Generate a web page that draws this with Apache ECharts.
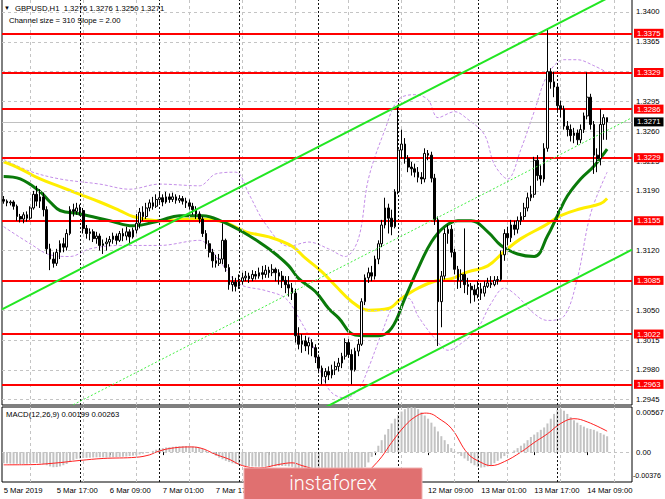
<!DOCTYPE html>
<html>
<head>
<meta charset="utf-8">
<script src="https://cdn.jsdelivr.net/npm/echarts@6/dist/echarts.min.js"></script>
<style>
  html, body { margin: 0; padding: 0; background: #fff; }
  #chart { width: 665px; height: 499px; }
</style>
</head>
<body>
<div id="chart"></div>
<script>
// GBPUSD H1, 5 Mar 01:00 .. 14 Mar 15:00. Candles as [open, close, low, high] in pips above 1.3000
const PIP_BASE = 1.3;
const ohlcPips = [
  [180,178,175,184],[178,176,172,180],[176,177,173,179],[177,172,168,179],[172,160,155,174],
  [160,157,153,163],[157,162,152,165],[162,158,154,166],[158,170,156,172],[170,186,168,190],
  [186,178,172,196],[178,183,170,192],[183,168,160,188],[168,122,116,172],[122,110,97,128],
  [110,105,100,118],[105,118,102,122],[118,128,110,132],[128,124,118,135],[124,140,120,145],
  [140,168,138,172],[168,166,160,175],[166,170,162,176],[170,167,161,174],[167,146,140,170],
  [146,140,134,150],[140,142,132,146],[142,134,130,145],[134,137,128,142],[137,126,120,140],
  [126,128,116,133],[128,130,120,135],[130,133,125,137],[133,137,128,141],[137,132,127,140],
  [132,140,130,143],[140,137,131,146],[137,142,132,148],[142,136,128,145],[136,144,134,147],
  [144,152,140,163],[152,165,146,170],[165,160,155,172],[160,170,157,176],[170,176,166,180],
  [176,172,168,183],[172,180,170,186],[180,182,174,188],[182,177,172,186],[177,183,175,189],
  [183,180,176,187],[180,183,177,188],[183,179,175,186],[179,181,176,185],[181,178,174,184],
  [178,176,170,182],[176,172,168,180],[172,168,162,176],[168,163,157,172],[163,157,152,166],
  [157,140,136,160],[140,128,122,144],[128,118,112,132],[118,108,100,122],[108,105,100,115],
  [105,110,102,116],[110,132,104,152],[132,100,95,134],[100,80,74,104],[80,83,72,90],
  [83,78,72,88],[78,84,75,92],[84,88,80,94],[88,90,84,96],[90,87,82,94],
  [87,92,84,97],[92,90,86,96],[90,94,87,100],[94,92,86,102],[92,97,88,103],
  [97,94,88,101],[94,98,90,104],[98,94,84,100],[94,90,80,98],[90,85,76,96],
  [85,80,70,90],[80,76,66,90],[76,70,62,82],[70,20,12,75],[20,10,4,30],
  [10,14,0,22],[14,8,2,20],[8,12,-2,18],[12,6,-4,16],[6,-5,-12,10],
  [-5,-18,-24,-2],[-18,-28,-37,-15],[-28,-22,-36,-18],[-22,-26,-32,-16],[-26,-20,-30,-14],
  [-20,-16,-26,-10],[-16,-12,-22,-6],[-12,-4,-18,0],[-4,12,-8,17],[12,-2,-6,16],
  [-2,-20,-37,4],[-20,2,-22,6],[2,10,-4,16],[10,60,8,64],[60,88,56,92],
  [88,94,82,100],[94,90,84,102],[90,110,86,114],[110,128,104,132],[128,150,124,156],
  [150,170,146,182],[170,158,140,175],[158,148,138,168],[148,189,146,192],[189,238,186,291],
  [238,245,228,262],[245,228,222,252],[228,218,212,232],[218,216,208,224],[216,212,206,222],
  [212,206,200,218],[206,204,198,212],[204,234,200,240],[234,232,226,238],[232,205,200,236],
  [205,156,150,210],[156,60,8,160],[60,90,30,96],[90,140,86,146],[140,145,128,150],
  [145,118,112,150],[118,98,92,122],[98,85,75,102],[85,92,76,98],[92,80,70,146],
  [80,78,68,88],[78,74,58,82],[74,68,60,80],[68,75,64,84],[75,70,62,82],
  [70,78,66,84],[78,82,76,88],[82,80,76,90],[80,85,78,90],[85,86,80,90],
  [86,115,84,120],[115,140,108,145],[140,135,126,148],[135,150,130,156],[150,145,138,155],
  [145,155,140,160],[155,160,150,165],[160,170,156,176],[170,182,166,188],[182,186,178,196],
  [186,226,182,230],[226,208,202,232],[208,204,196,220],[204,240,200,246],[240,330,236,381],
  [330,318,310,334],[318,312,300,330],[312,290,284,316],[290,286,276,296],[286,266,262,290],
  [266,262,254,272],[262,255,248,268],[255,258,246,264],[258,250,244,262],[250,262,246,268],
  [262,278,258,282],[278,300,274,329],[300,268,262,304],[268,232,210,272],[232,228,212,240],
  [228,268,220,286],[268,276,250,280],[276,271,250,276]
];

// moving averages / bands, sampled as [bar, price]
const maGreen = [[0,1.3207],[5,1.3204],[11,1.3189],[14,1.3177],[17,1.3167],[23,1.3163],[32,1.3155],[39,1.3149],
  [47,1.3155],[53,1.3161],[60,1.3161],[66,1.3154],[72,1.3142],[77,1.3130],[82,1.3116],[86,1.3102],[89,1.3087],
  [94,1.3072],[98,1.3052],[101,1.3041],[106,1.3021],[113,1.3020],[117,1.3029],[121,1.3064],[125,1.3099],
  [129,1.3130],[133,1.3148],[137,1.3155],[141,1.3155],[146,1.3142],[150,1.3126],[155,1.3116],[160,1.3113],
  [164,1.3137],[167,1.3161],[170,1.3184],[174,1.3204],[178,1.3219],[182,1.3239]];
const maYellow = [[0,1.3224],[5,1.3216],[11,1.3204],[17,1.3195],[23,1.3186],[29,1.3177],[35,1.3167],[39,1.3160],
  [47,1.3155],[57,1.3157],[66,1.3154],[73,1.3142],[80,1.3136],[87,1.3125],[91,1.3111],[96,1.3095],[100,1.3079],
  [105,1.3060],[110,1.3050],[116,1.3052],[120,1.3064],[125,1.3076],[130,1.3084],[135,1.3087],[140,1.3095],
  [146,1.3102],[151,1.3119],[156,1.3134],[163,1.3149],[168,1.3161],[174,1.3169],[180,1.3175],[182,1.3181]];
const bandUpper = [[0,1.3227],[8,1.3213],[17,1.3204],[29,1.3198],[38,1.3192],[47,1.3198],[59,1.3196],[64,1.3210],
  [70,1.3212],[74,1.3186],[79,1.3151],[86,1.3125],[92,1.3130],[98,1.3122],[103,1.3113],[107,1.3134],[110,1.3204],
  [115,1.3262],[119,1.3297],[124,1.3303],[128,1.3297],[131,1.3276],[136,1.3283],[140,1.3274],[145,1.3256],
  [148,1.3221],[152,1.3204],[156,1.3239],[160,1.3283],[164,1.3326],[169,1.3344],[173,1.3344],[178,1.3337],[182,1.3329]];
const bandLower = [[0,1.3148],[8,1.3128],[14,1.3115],[20,1.3113],[26,1.3122],[35,1.3126],[47,1.3126],[59,1.3132],
  [65,1.3108],[71,1.3081],[79,1.3073],[85,1.3064],[89,1.3041],[93,1.3011],[96,1.2973],[99,1.2953],[103,1.2947],
  [107,1.2957],[110,1.2982],[114,1.3023],[118,1.3058],[122,1.3064],[125,1.3043],[130,1.3017],[134,1.3003],
  [138,1.3011],[143,1.3029],[147,1.3058],[151,1.3076],[155,1.3066],[160,1.3046],[164,1.3038],[169,1.3043],
  [173,1.3087],[177,1.3163],[182,1.3212]];

// regression channel (size 310 pips, slope 2.00)
const channelUpper = [[-0.5,1.3051],[189.5,1.3431]];
const channelMid = [[-0.5,1.2896],[189.5,1.3276]];
const channelLower = [[-0.5,1.2741],[189.5,1.3121]];

const levels = [1.3375, 1.3329, 1.3286, 1.3229, 1.3155, 1.3085, 1.3022, 1.2963];
const lastPrice = 1.3271;
const priceTicks = [1.3400, 1.3365, 1.3330, 1.3295, 1.3260, 1.3225, 1.3190, 1.3155, 1.3120, 1.3085, 1.3050, 1.3015, 1.2980, 1.2945];

// MACD(12,26,9): histogram per bar and signal samples, in 1e-5 units
const macdHist = [
  -140,-142,-145,-146,-148,-150,-148,-146,-140,-135,-138,-142,-150,
  -165,-180,-190,-188,-180,
  -165,-150,-120,-100,-85,
  -80,-75,-72,-70,-68,-66,-65,-66,-68,-66,-64,-62,-60,-58,-55,-50,-45,-40,-30,
  -20,-10,0,15,
  30,40,50,58,62,66,70,72,74,75,72,70,65,55,
  40,20,0,-20,-45,-70,-90,-110,
  -125,-140,-150,-160,-170,
  -175,-178,-180,-182,-184,-185,-184,-182,-180,-178,-176,-175,-176,-180,-185,
  -200,-230,-255,-275,-290,-305,-320,-335,-350,-362,-370,-376,-372,
  -365,-355,-345,-335,-325,-310,-290,-250,-190,-130,
  -60,10,80,150,220,290,
  360,420,470,510,540,560,
  567,560,540,500,
  460,420,370,320,260,200,150,100,50,
  10,-20,-50,-80,
  -110,-140,-165,-185,-195,-190,-180,-165,
  -140,-110,-80,-50,-25,0,20,
  50,80,110,150,190,220,250,280,310,
  360,420,480,530,540,520,480,
  440,400,370,340,320,300,290,280,260,240,220,199
];
const macdSignal = [[0,-160],[8,-158],[15,-140],[23,-105],[30,-80],[40,-65],[44,-35],[46,0],[50,45],[56,65],
  [59,55],[64,-30],[68,-90],[72,-170],[77,-200],[83,-155],[87,-135],[90,-170],[95,-230],[100,-285],[105,-310],
  [109,-280],[111,-200],[114,-60],[117,120],[121,330],[124,440],[127,490],[129,480],[131,430],[135,300],
  [140,-20],[144,-130],[147,-170],[151,-120],[156,0],[160,120],[164,230],[168,360],[172,420],[176,380],[182,263]];
const macdScale = { max: 0.00567, min: -0.00376 };

// bottom scale, one label every 16 bars; the ones under the logo are left blank
const dateLabels = ['5 Mar 2019','5 Mar 17:00','6 Mar 09:00','7 Mar 01:00','7 Mar 17:00','',
  '','','12 Mar 09:00','13 Mar 01:00','13 Mar 17:00','14 Mar 09:00'];
const LABEL_EVERY = 16;
const daySeparators = [23, 47, 71, 95, 119, 143, 167];
const gridBars = [8, 24, 40, 56, 72, 88, 104, 120, 136, 152, 168, 184];
const SLOTS = 190;

const FONT = '"Liberation Sans", Arial, sans-serif';
const FS = 7.7;
const cats = Array.from({ length: SLOTS }, (_, i) => String(i));
const toPrice = (p) => +(PIP_BASE + p / 10000).toFixed(5);
const candleData = ohlcPips.map((r) => r.map(toPrice));
const histData = macdHist.map((v) => v / 100000);
const signalData = macdSignal.map(([b, v]) => [b, v / 100000]);

const gridStyle = { color: '#c4c4c4', width: 1, type: [3, 3] };
const sepStyle = { color: '#111', width: 1, type: [2, 2] };
const hiddenStyle = { color: 'rgba(0,0,0,0)', width: 0 };
const tickLabel = { show: true, position: 'end', distance: 4, color: '#000', fontSize: FS, fontFamily: FONT };

const verticals = () => [
  ...gridBars.map((b) => ({ xAxis: b, lineStyle: gridStyle, label: { show: false } })),
  ...daySeparators.map((b) => ({ xAxis: b, lineStyle: sepStyle, label: { show: false } }))
];

const chart = echarts.init(document.getElementById('chart'), null, { renderer: 'svg' });

chart.setOption({
  animation: false,
  backgroundColor: '#fff',
  grid: [
    { left: 2, top: -2, width: 630, height: 407, show: true, borderColor: '#000', borderWidth: 1, containLabel: false, outerBoundsMode: 'none' },
    { left: 2, top: 407, width: 630, height: 75, show: true, borderColor: '#000', borderWidth: 1, containLabel: false, outerBoundsMode: 'none' }
  ],
  xAxis: [
    { type: 'category', gridIndex: 0, data: cats, boundaryGap: true, show: false },
    { type: 'value', gridIndex: 0, min: -0.5, max: SLOTS - 0.5, show: false },
    {
      type: 'category', gridIndex: 1, data: cats, boundaryGap: true,
      axisLine: { show: false },
      axisTick: { show: true, alignWithLabel: true, length: 3, interval: (i) => i % LABEL_EVERY === 0, lineStyle: { color: '#000' } },
      axisLabel: {
        interval: (i) => i % LABEL_EVERY === 0 && !!dateLabels[i / LABEL_EVERY],
        formatter: (v) => dateLabels[Number(v) / LABEL_EVERY] || '',
        align: 'left', margin: 4, color: '#000', fontSize: FS, fontFamily: FONT
      },
      splitLine: { show: false }
    },
    { type: 'value', gridIndex: 1, min: -0.5, max: SLOTS - 0.5, show: false }
  ],
  yAxis: [
    { type: 'value', gridIndex: 0, min: 1.293873, max: 1.341643, show: false },
    { type: 'value', gridIndex: 1, min: macdScale.min, max: macdScale.max, show: false }
  ],
  series: [
    // price grid + right scale labels
    {
      type: 'line', xAxisIndex: 1, yAxisIndex: 0, data: [], z: 1, silent: true,
      markLine: {
        symbol: 'none', silent: true, animation: false, precision: 6,
        data: [
          ...priceTicks.map((v) => ({ yAxis: v, lineStyle: gridStyle, label: { ...tickLabel, formatter: v.toFixed(4) } })),
          ...verticals()
        ]
      }
    },
    { type: 'line', name: 'band up', xAxisIndex: 1, yAxisIndex: 0, data: bandUpper, showSymbol: false, smooth: 0.35, z: 2,
      lineStyle: { color: '#c48ee8', width: 1, type: [3, 2] } },
    { type: 'line', name: 'band low', xAxisIndex: 1, yAxisIndex: 0, data: bandLower, showSymbol: false, smooth: 0.35, z: 2,
      lineStyle: { color: '#c48ee8', width: 1, type: [3, 2] } },
    { type: 'line', name: 'MA yellow', xAxisIndex: 1, yAxisIndex: 0, data: maYellow, showSymbol: false, smooth: 0.4, z: 3,
      lineStyle: { color: '#ffee00', width: 3 } },
    { type: 'line', name: 'MA green', xAxisIndex: 1, yAxisIndex: 0, data: maGreen, showSymbol: false, smooth: 0.4, z: 4,
      lineStyle: { color: '#0a7a0a', width: 3 } },
    {
      type: 'candlestick', name: 'GBPUSD', xAxisIndex: 0, yAxisIndex: 0, data: candleData, z: 5,
      barWidth: 2.2,
      itemStyle: { color: '#ffffff', color0: '#000000', borderColor: '#000000', borderColor0: '#000000', borderWidth: 1 }
    },
    { type: 'line', xAxisIndex: 1, yAxisIndex: 0, data: channelUpper, showSymbol: false, z: 6, clip: true,
      lineStyle: { color: '#22e622', width: 2 } },
    { type: 'line', xAxisIndex: 1, yAxisIndex: 0, data: channelLower, showSymbol: false, z: 6, clip: true,
      lineStyle: { color: '#22e622', width: 2 } },
    { type: 'line', xAxisIndex: 1, yAxisIndex: 0, data: channelMid, showSymbol: false, z: 6, clip: true,
      lineStyle: { color: '#44ee44', width: 1, type: [2, 2] } },
    // support / resistance levels and bid line
    {
      type: 'line', xAxisIndex: 1, yAxisIndex: 0, data: [], z: 7, silent: true,
      markLine: {
        symbol: 'none', silent: true, animation: false, precision: 6,
        data: [
          { yAxis: lastPrice, lineStyle: { color: '#c0c0c0', width: 1, type: 'solid' },
            label: { show: true, position: 'end', distance: 2, color: '#fff', backgroundColor: '#000', padding: [1, 3, 0, 3],
              fontSize: FS, fontFamily: FONT, formatter: lastPrice.toFixed(4) } },
          ...levels.map((v) => ({
            yAxis: v, lineStyle: { color: '#ff0000', width: 2, type: 'solid' },
            label: { show: true, position: 'end', distance: 2, color: '#fff', backgroundColor: '#ff0000', padding: [1, 3, 0, 3],
              fontSize: FS, fontFamily: FONT, formatter: v.toFixed(4) }
          }))
        ]
      }
    },
    // MACD pane: zero line, scale labels (top/bottom labels sit just inside the pane)
    {
      type: 'line', xAxisIndex: 3, yAxisIndex: 1, data: [], z: 1, silent: true,
      markLine: {
        symbol: 'none', silent: true, animation: false, precision: 8,
        data: [
          { yAxis: 0, lineStyle: gridStyle, label: { ...tickLabel, formatter: '0.00' } },
          { yAxis: 0.00492, lineStyle: hiddenStyle, label: { ...tickLabel, formatter: macdScale.max.toFixed(5) } },
          { yAxis: -0.003, lineStyle: hiddenStyle, label: { ...tickLabel, distance: 1, fontSize: 7.1, formatter: macdScale.min.toFixed(5) } },
          ...verticals()
        ]
      }
    },
    { type: 'bar', name: 'MACD', xAxisIndex: 2, yAxisIndex: 1, data: histData, barWidth: 2, z: 2,
      itemStyle: { color: '#c3c3c3' } },
    { type: 'line', name: 'Signal', xAxisIndex: 3, yAxisIndex: 1, data: signalData, showSymbol: false, smooth: 0.4, z: 3,
      lineStyle: { color: '#ff2020', width: 1 } }
  ],
  graphic: [
    { type: 'text', z: 50, style: { text: '\u25BC', x: 4, y: 8, fill: '#000', fontSize: 6, fontFamily: FONT, verticalAlign: 'middle' } },
    { type: 'text', z: 50, style: { text: 'GBPUSD,H1  1.3276 1.3276 1.3250 1.3271', x: 15, y: 8, fill: '#000', fontSize: FS, fontFamily: FONT, verticalAlign: 'middle' } },
    { type: 'text', z: 50, style: { text: 'Channel size = 310 Slope = 2.00', x: 9, y: 20, fill: '#000', fontSize: FS, fontFamily: FONT, verticalAlign: 'middle' } },
    { type: 'text', z: 50, style: { text: 'MACD(12,26,9) 0.00199 0.00263', x: 6, y: 414, fill: '#000', fontSize: FS, fontFamily: FONT, verticalAlign: 'middle' } },
    { type: 'rect', z: 100, shape: { x: 244, y: 468, width: 178, height: 34 }, style: { fill: '#e07070', stroke: '#f0b0b0', lineWidth: 1 } },
    { type: 'text', z: 101, style: { text: 'instaforex', x: 333, y: 483, fill: '#fff', fontSize: 20, fontWeight: 300, fontFamily: 'Roboto, "Open Sans", sans-serif', align: 'center', verticalAlign: 'middle' } }
  ]
});
</script>
</body>
</html>
